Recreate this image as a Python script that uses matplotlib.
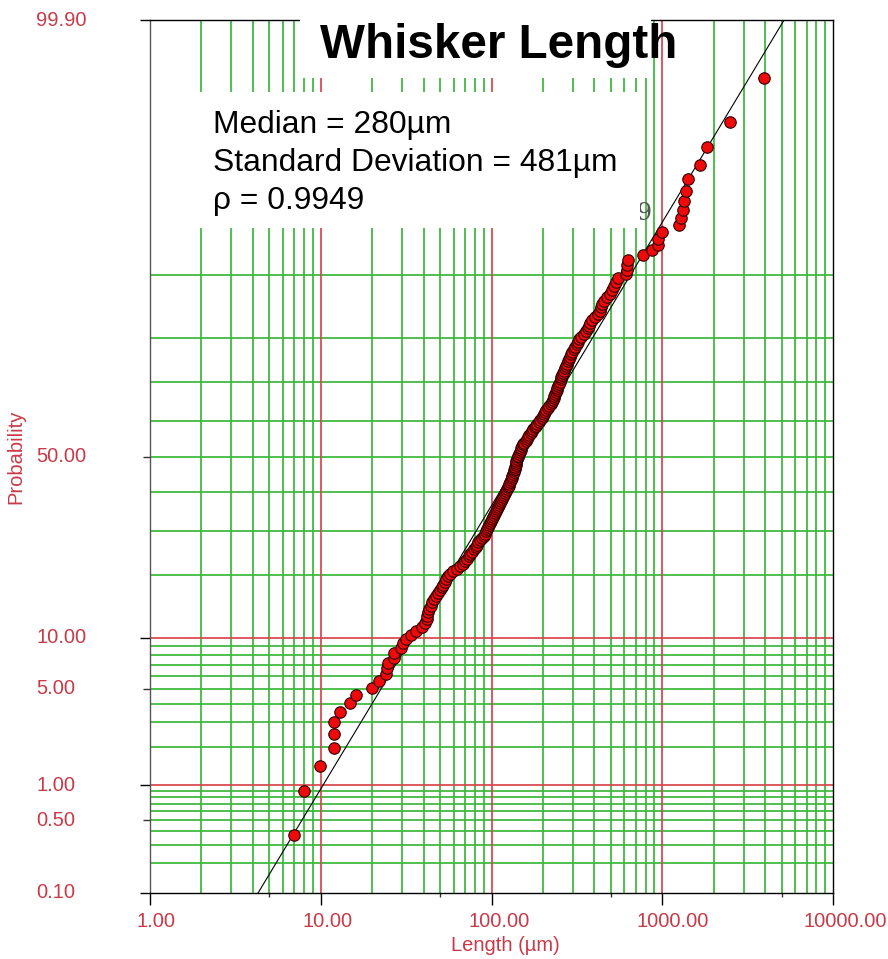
import matplotlib
matplotlib.use('Agg')
import matplotlib.pyplot as plt
import matplotlib.transforms as mtransforms
from matplotlib.patches import Rectangle
from matplotlib.ticker import NullFormatter
import numpy as np
from statistics import NormalDist

plt.rcParams['font.family'] = ['Liberation Sans', 'DejaVu Sans']

# whisker lengths in um, sorted
lengths = [
    7.0, 8.0, 9.9, 12.0, 12.0, 12.0, 13.0, 14.8, 16.1, 20.0,
    21.9, 24.0, 24.5, 24.7, 27.0, 27.0, 29.5, 30.3, 31.6, 33.8,
    36.1, 39.0, 41.0, 41.8, 41.9, 42.5, 43.2, 44.0, 45.1, 46.3,
    47.5, 48.6, 49.8, 51.0, 52.1, 53.3, 54.3, 55.3, 57.1, 59.8,
    62.6, 65.7, 68.0, 69.8, 71.6, 73.5, 75.3, 77.3, 79.3, 80.9,
    82.5, 83.9, 85.5, 88.0, 90.0, 91.4, 92.7, 94.1, 95.4, 96.7,
    98.1, 99.5, 100.8, 102.2, 103.7, 105.1, 106.5, 108.0, 109.4, 110.9,
    112.5, 114.0, 115.5, 116.9, 118.5, 120.0, 121.6, 123.1, 124.8, 126.1,
    127.3, 128.5, 129.8, 131.0, 132.4, 133.6, 134.6, 135.5, 136.4, 137.3,
    138.3, 139.0, 139.9, 141.1, 142.4, 143.8, 145.1, 146.5, 147.9, 149.3,
    150.9, 153.3, 155.8, 158.6, 161.2, 164.0, 166.7, 169.7, 172.7, 175.5,
    178.6, 182.0, 185.5, 189.2, 192.9, 196.6, 200.3, 203.3, 206.3, 209.7,
    212.8, 216.9, 222.8, 226.7, 228.9, 231.4, 233.6, 236.1, 238.7, 241.0,
    243.5, 246.2, 248.9, 251.6, 254.3, 257.0, 260.2, 263.0, 265.9, 269.1,
    272.0, 275.0, 279.1, 283.6, 288.3, 293.0, 297.8, 302.6, 308.8, 314.7,
    321.1, 327.2, 335.7, 346.3, 356.7, 365.5, 372.4, 379.6, 387.9, 403.8,
    420.5, 429.7, 437.9, 445.6, 456.5, 474.1, 492.4, 507.9, 524.0, 536.1,
    553.0, 613.5, 617.6, 619.3, 627.8, 774.5, 874.6, 948.0, 950.6, 1001.0,
    1245.0, 1293.0, 1323.0, 1346.0, 1377.0, 1409.0, 1670.0, 1821.0, 2503.0, 3960.0,
]

# fitted lognormal line: value at 50 % and slope in decades per sigma
fit_median = 149.0
fit_sigma = 0.4985

len_ticks = [1, 10, 100, 1000, 10000]
len_labels = ['1.00', '10.00', '100.00', '1000.00', '10000.00']
prob_ticks = [99.9, 50, 10, 5, 1, 0.5, 0.1]
prob_labels = ['99.90', '50.00', '10.00', '5.00', '1.00', '0.50', '0.10']

stats_lines = ['Median = 280µm', 'Standard Deviation = 481µm', 'ρ = 0.9949']

RED = '#d8454c'
GREEN = '#38b838'
TXT = '#c93a48'

nd = NormalDist()


def prob_fwd(p):
    p = np.clip(np.asarray(p, dtype=float), 1e-6, 100 - 1e-6)
    return np.vectorize(lambda v: nd.inv_cdf(v / 100.0))(p)


def prob_inv(z):
    return np.vectorize(lambda v: nd.cdf(v) * 100.0)(np.asarray(z, dtype=float))


# median-rank plotting positions
n = len(lengths)
ranks = np.arange(1, n + 1)
probs = (ranks - 0.3) / (n + 0.4) * 100

fig = plt.figure(figsize=(8.88, 9.59), dpi=100)
ax = fig.add_axes([150 / 888, 1 - 893 / 959, 683 / 888, 873 / 959])
ax.set_xscale('log')
ax.set_yscale('function', functions=(prob_fwd, prob_inv))
ax.set_xlim(1, 10000)
ax.set_ylim(0.1, 99.9)

# probability paper grid
for dec in [1, 10, 100, 1000]:
    for m in range(2, 10):
        ax.axvline(m * dec, color=GREEN, lw=1.25, zorder=1)
for x in [10, 100, 1000]:
    ax.axvline(x, color=RED, lw=1.25, zorder=1.2)
hgrid = [0.2, 0.3, 0.4, 0.5, 0.6, 0.7, 0.8, 0.9,
         2, 3, 4, 5, 6, 7, 8, 9,
         20, 30, 40, 50, 60, 70, 80, 90]
for p in hgrid:
    ax.axhline(p, color=GREEN, lw=1.25, zorder=1.1)
for p in [1, 10]:
    ax.axhline(p, color=RED, lw=1.25, zorder=1.2)

# fitted line
p_end = np.array([0.1, 99.9])
x_end = 10 ** (np.log10(fit_median) + fit_sigma * prob_fwd(p_end))
ax.plot(x_end, p_end, color='black', lw=0.8, zorder=2)

ax.scatter(lengths, probs, s=68, facecolor='#ee0a0a', edgecolor='#300000',
           linewidth=0.8, zorder=3)

# ticks
ax.set_xticks(len_ticks)
ax.set_xticklabels(len_labels)
ax.set_xticks([5, 50, 500, 5000], minor=True)
ax.xaxis.set_minor_formatter(NullFormatter())
ax.tick_params(axis='x', which='major', length=8.6, width=1.0, pad=5,
               labelsize=14.5, labelcolor=TXT)
ax.tick_params(axis='x', which='minor', length=3, width=1.0, color='#333333')
for tk, c in zip(ax.xaxis.get_major_ticks(), ['#333333', RED, RED, RED, 'black']):
    tk.tick1line.set_color(c)
for lab, dx in zip(ax.get_xticklabels(), [6, 7, 8, 10, 12]):
    lab.set_transform(lab.get_transform() +
                      mtransforms.ScaledTranslation(dx / 100, 0, fig.dpi_scale_trans))

ax.set_yticks([0.1, 1, 10, 99.9])
ax.set_yticks([0.5, 5, 50], minor=True)
ax.yaxis.set_major_formatter(NullFormatter())
ax.yaxis.set_minor_formatter(NullFormatter())
ax.tick_params(axis='y', which='major', length=7.2, width=1.0)
ax.tick_params(axis='y', which='minor', length=5, width=1.0, color='#333333')
for tk, c in zip(ax.yaxis.get_major_ticks(), ['black', RED, RED, 'black']):
    tk.tick1line.set_color(c)

ytrans = ax.get_yaxis_transform()
for p, lab in zip(prob_ticks, prob_labels):
    ax.text(-0.1669, p, lab, transform=ytrans, ha='left', va='center',
            fontsize=14.5, color=TXT)

ax.text(-0.196, 0.5, 'Probability', transform=ax.transAxes, rotation=90,
        ha='center', va='center', fontsize=14.5, color=TXT)
ax.text(0.5198, -0.0596, 'Length (µm)', transform=ax.transAxes,
        ha='center', va='center', fontsize=14.5, color=TXT)

for side in ['top', 'right', 'bottom']:
    ax.spines[side].set_color('black')
ax.spines['left'].set_color('#555555')
for sp in ax.spines.values():
    sp.set_linewidth(1.0)

# partly hidden correlation text behind the stats box
fig.text(637 / 888, 1 - 220 / 959, '9', family='DejaVu Serif', fontsize=17,
         color='#555555', ha='left', va='baseline', zorder=1.5)

# white panels for title and stats
fig.add_artist(Rectangle((300 / 888, 1 - 78 / 959), 351 / 888, 78 / 959,
                         transform=fig.transFigure, facecolor='white',
                         edgecolor='none', zorder=2))
fig.add_artist(Rectangle((192 / 888, 1 - 228 / 959), 448 / 888, 136 / 959,
                         transform=fig.transFigure, facecolor='white',
                         edgecolor='none', zorder=2))

fig.text(498.5 / 888, 1 - 58 / 959, 'Whisker Length', fontsize=34.3,
         fontweight='bold', ha='center', va='baseline', zorder=3)
for i, line in enumerate(stats_lines):
    fig.text(213 / 888, 1 - (133 + 38 * i) / 959, line, fontsize=22.9,
             ha='left', va='baseline', zorder=3)

plt.savefig('out.png', dpi=100)
